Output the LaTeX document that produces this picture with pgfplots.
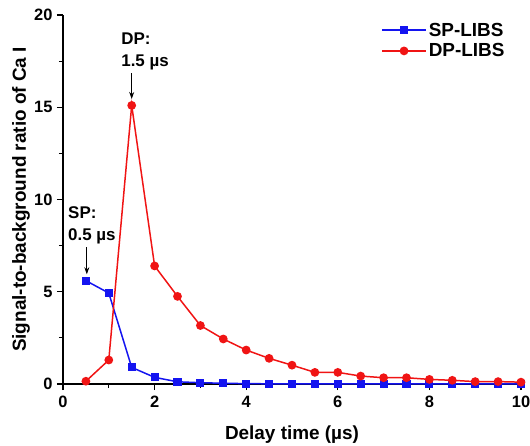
\documentclass[border=0pt]{standalone}
\usepackage{pgfplots}
\pgfplotsset{compat=1.18}
\usetikzlibrary{arrows.meta}
\usepackage{fontspec}
\setmainfont{Liberation Sans}
\begin{document}
\begin{tikzpicture}
\begin{axis}[
  scale only axis,
  width=458bp, height=369bp,
  xmin=0, xmax=10, ymin=0, ymax=20,
  axis lines=left,
  axis line style={-, line width=1.1pt},
  xtick={0,2,4,6,8,10},
  ytick={0,5,10,15,20},
  minor x tick num=1,
  minor y tick num=1,
  tick align=outside,
  major tick length=6bp,
  minor tick length=4bp,
  every tick/.style={black, line width=1.1pt},
  /pgf/number format/assume math mode=true,
  tick label style={font=\bfseries\fontsize{16.5}{16.5}\selectfont},
  xticklabel style={yshift=-3bp},
  yticklabel style={xshift=-1bp},
  xlabel={Delay time (\textmu s)},
  ylabel={Signal-to-background ratio of Ca I},
  every axis x label/.style={at={(axis description cs:0.5,0)}, anchor=center, yshift=-51bp, font=\bfseries\fontsize{19}{19}\selectfont},
  every axis y label/.style={at={(axis description cs:-0.0917,0.5)}, anchor=center, rotate=90, font=\bfseries\fontsize{19}{19}\selectfont},
  legend style={at={(axis description cs:0.688,0.99)}, anchor=north west, draw=none, fill=none, font=\bfseries\fontsize{19}{19}\selectfont, row sep=2bp},
  legend cell align=left,
  legend image code/.code={\draw[#1, mark repeat=2, mark phase=2] plot coordinates {(0bp,0bp)(22bp,0bp)(44bp,0bp)};},
  clip=false,
]
\addplot[color={rgb,255:red,20;green,20;blue,240}, line width=1.5pt, mark=square*, mark size=3.3bp] coordinates {
(0.5,5.6)(1.0,4.93)(1.5,0.9)(2.0,0.36)(2.5,0.12)(3.0,0.07)(3.5,0.04)(4.0,0.02)(4.5,0.01)(5.0,0.01)(5.5,0.01)(6.0,0.01)(6.5,0.01)(7.0,0.01)(7.5,0.01)(8.0,0.01)(8.5,0.01)(9.0,0.01)(9.5,0.01)(10.0,0.01)};
\addlegendentry{SP-LIBS}
\addplot[color={rgb,255:red,240;green,20;blue,20}, line width=1.5pt, mark=*, mark size=3.6bp] coordinates {
(0.5,0.15)(1.0,1.3)(1.5,15.1)(2.0,6.4)(2.5,4.75)(3.0,3.17)(3.5,2.44)(4.0,1.84)(4.5,1.39)(5.0,1.02)(5.5,0.63)(6.0,0.63)(6.5,0.43)(7.0,0.34)(7.5,0.34)(8.0,0.25)(8.5,0.2)(9.0,0.13)(9.5,0.13)(10.0,0.1)};
\addlegendentry{DP-LIBS}
\node[anchor=west, inner sep=0pt, font=\bfseries\fontsize{17}{17}\selectfont] at (axis cs:1.27,18.7) {DP:};
\node[anchor=west, inner sep=0pt, font=\bfseries\fontsize{17}{17}\selectfont] at (axis cs:1.27,17.45) {1.5 \textmu s};
\draw[-{Stealth[length=7bp,width=5bp]}, line width=0.8pt] (axis cs:1.5,16.85) -- (axis cs:1.5,15.45);
\node[anchor=west, inner sep=0pt, font=\bfseries\fontsize{17}{17}\selectfont] at (axis cs:0.11,9.27) {SP:};
\node[anchor=west, inner sep=0pt, font=\bfseries\fontsize{17}{17}\selectfont] at (axis cs:0.11,8.0) {0.5 \textmu s};
\draw[-{Stealth[length=7bp,width=5bp]}, line width=0.8pt] (axis cs:0.52,7.4) -- (axis cs:0.52,5.95);
\end{axis}
\pgfresetboundingbox
\path[use as bounding box] (-63bp,-62bp) rectangle (467bp,384bp);
\end{tikzpicture}
\end{document}
